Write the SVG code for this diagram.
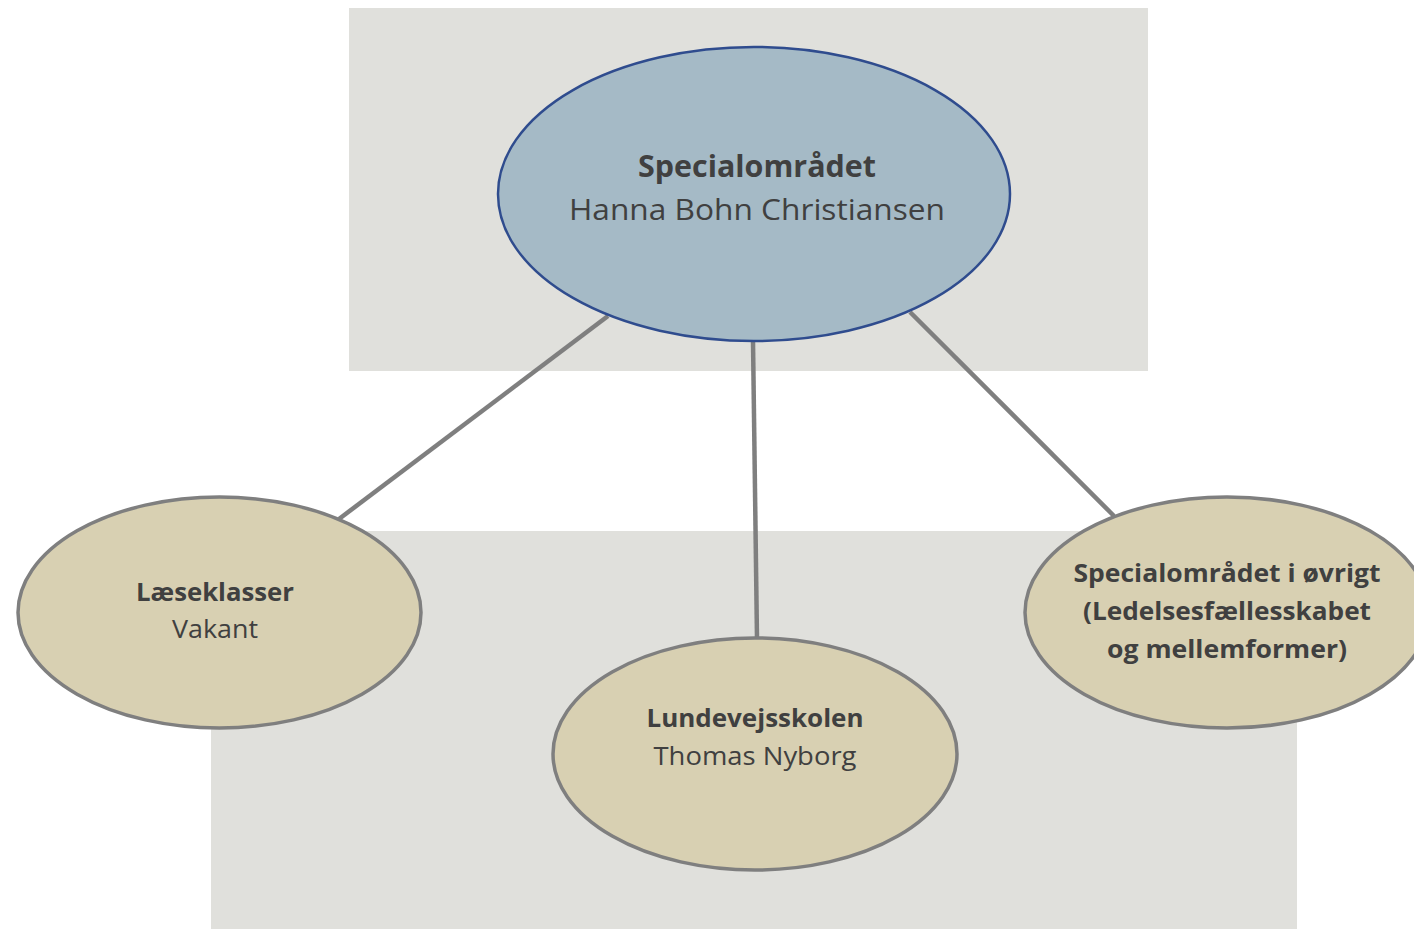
<svg xmlns="http://www.w3.org/2000/svg" width="1414" height="929" viewBox="0 0 1414 929">
<style>
.bg{fill:#E0E0DC}
.conn{stroke:#7F7F7F;stroke-width:4.5;fill:none}
.top{fill:#A5BAC6;stroke:#2F4C8E;stroke-width:2.5}
.sub{fill:#D8D0B2;stroke:#7F7F7F;stroke-width:3.5}
text{font-family:"Open Sans","Liberation Sans",sans-serif;fill:#404040;text-anchor:middle}
.b{font-weight:bold}
</style>
<rect width="1414" height="929" fill="#FFFFFF"/>
<rect class="bg" x="349" y="8" width="799" height="363"/>
<rect class="bg" x="211" y="531" width="1086" height="398"/>
<g id="connectors">
<line class="conn" x1="608" y1="316" x2="339" y2="519"/>
<line class="conn" x1="753" y1="341" x2="757" y2="639"/>
<line class="conn" x1="910" y1="312" x2="1114" y2="516"/>
</g>
<g id="node-specialomraadet">
<ellipse class="top" cx="754" cy="194" rx="256" ry="147"/>
<text class="b" x="757" y="177" font-size="30" textLength="238" lengthAdjust="spacingAndGlyphs">Specialområdet</text>
<text x="757" y="220" font-size="30" textLength="376" lengthAdjust="spacingAndGlyphs">Hanna Bohn Christiansen</text>
</g>
<g id="node-laeseklasser">
<ellipse class="sub" cx="219.5" cy="612.5" rx="201.5" ry="115.5"/>
<text class="b" x="215" y="601" font-size="25" textLength="158" lengthAdjust="spacingAndGlyphs">Læseklasser</text>
<text x="215" y="638" font-size="25" textLength="86" lengthAdjust="spacingAndGlyphs">Vakant</text>
</g>
<g id="node-lundevejsskolen">
<ellipse class="sub" cx="755" cy="754" rx="202" ry="116"/>
<text class="b" x="755" y="727" font-size="25" textLength="217" lengthAdjust="spacingAndGlyphs">Lundevejsskolen</text>
<text x="755" y="765" font-size="25" textLength="203" lengthAdjust="spacingAndGlyphs">Thomas Nyborg</text>
</g>
<g id="node-oevrigt">
<ellipse class="sub" cx="1227" cy="612.5" rx="202" ry="115.5"/>
<text class="b" x="1227" y="582" font-size="25" textLength="307" lengthAdjust="spacingAndGlyphs">Specialområdet i øvrigt</text>
<text class="b" x="1227" y="620" font-size="25" textLength="288" lengthAdjust="spacingAndGlyphs">(Ledelsesfællesskabet</text>
<text class="b" x="1227" y="658" font-size="25" textLength="240" lengthAdjust="spacingAndGlyphs">og mellemformer)</text>
</g>
</svg>
